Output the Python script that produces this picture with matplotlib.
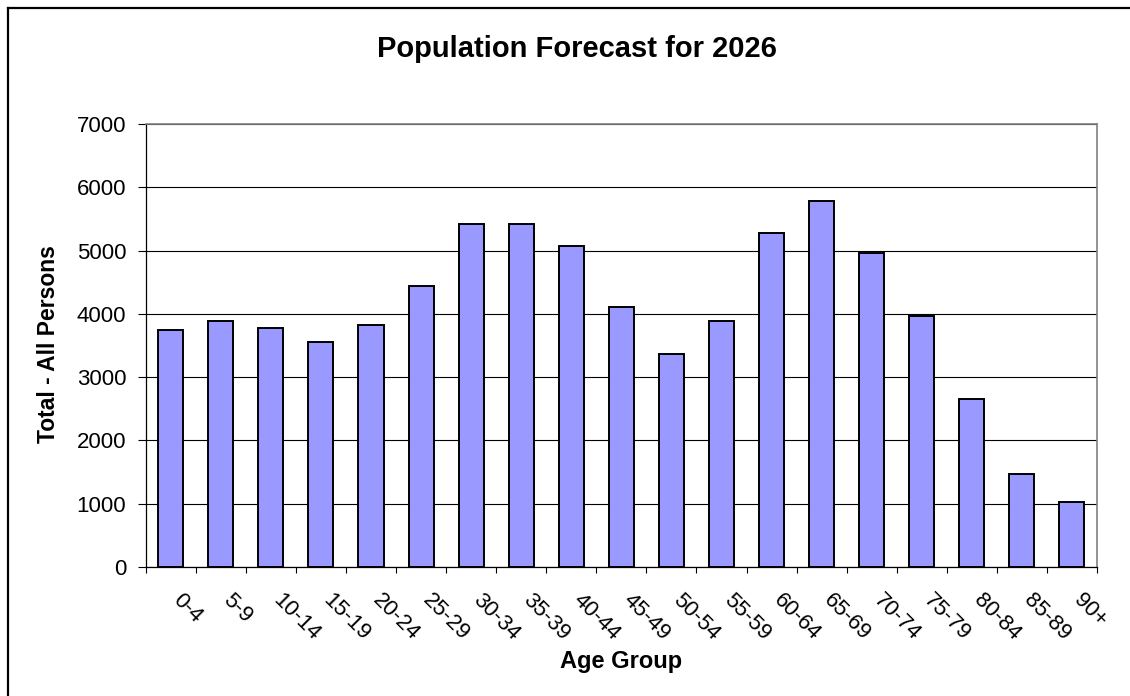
import matplotlib
matplotlib.use("Agg")
import matplotlib.pyplot as plt
import matplotlib.transforms as mtransforms
from matplotlib.lines import Line2D
import numpy as np

plt.rcParams['font.family'] = ['Liberation Sans', 'DejaVu Sans']

# Forecast population by five-year age group
age_groups = ["0-4", "5-9", "10-14", "15-19", "20-24", "25-29", "30-34",
              "35-39", "40-44", "45-49", "50-54", "55-59", "60-64", "65-69",
              "70-74", "75-79", "80-84", "85-89", "90+"]
persons = [3745, 3885, 3775, 3555, 3830, 4445, 5415, 5415, 5075, 4105,
           3360, 3885, 5275, 5780, 4965, 3970, 2660, 1465, 1025]
y_ticks = [0, 1000, 2000, 3000, 4000, 5000, 6000, 7000]

W, H = 1130, 696
fig = plt.figure(figsize=(W / 100, H / 100), dpi=100)
fig.patch.set_facecolor("white")

# outer chart frame (left and top edges fall inside the image)
fig.add_artist(Line2D([8 / W, 8 / W], [0, 1 - 8 / H], transform=fig.transFigure,
                      color="black", lw=1.6))
fig.add_artist(Line2D([8 / W, 1], [1 - 8 / H, 1 - 8 / H], transform=fig.transFigure,
                      color="black", lw=1.6))

left, right, top, bottom = 145.7, 1097, 124, 567
ax = fig.add_axes([left / W, 1 - bottom / H, (right - left) / W, (bottom - top) / H])

x = np.arange(len(age_groups))
ax.bar(x, persons, width=0.5, color="#9999FF", edgecolor="black", linewidth=1.4, zorder=3)

ax.set_xlim(-0.5, len(age_groups) - 0.5)
ax.set_ylim(0, 7000)
ax.set_yticks(y_ticks)
ax.set_yticklabels([str(v) for v in y_ticks], fontsize=16)
ax.yaxis.grid(True, color="black", linewidth=0.8, zorder=0)
ax.set_axisbelow(True)

# ticks at category boundaries, labels at category centres
ax.set_xticks(np.arange(-0.5, len(age_groups), 1.0))
ax.set_xticklabels([])
ax.set_xticks(x, minor=True)
ax.set_xticklabels(age_groups, minor=True, fontsize=16)
ax.tick_params(axis="x", which="major", direction="out", length=4, width=0.8)
ax.tick_params(axis="x", which="minor", length=0, pad=22)
ax.tick_params(axis="y", direction="out", length=6, width=0.8, pad=8)
shift = mtransforms.ScaledTranslation(5 / 100, 0, fig.dpi_scale_trans)
for lab in ax.get_xticklabels(minor=True):
    lab.set_rotation(-45)
    lab.set_rotation_mode("anchor")
    lab.set_ha("left")
    lab.set_va("center")
    lab.set_transform(lab.get_transform() + shift)

for side in ("top", "right"):
    ax.spines[side].set_color("#808080")
    ax.spines[side].set_linewidth(1.2)
for side in ("left", "bottom"):
    ax.spines[side].set_color("black")
    ax.spines[side].set_linewidth(0.9)

fig.text(576.7 / W, 1 - 56.7 / H, "Population Forecast for 2026", ha="center",
         va="baseline", fontsize=21, fontweight="bold")
fig.text(621.4 / W, 1 - 668.3 / H, "Age Group", ha="center", va="baseline",
         fontsize=17, fontweight="bold")
fig.text(55 / W, 1 - 344 / H, "Total - All Persons", ha="center", va="baseline",
         rotation=90, rotation_mode="anchor", fontsize=16.5, fontweight="bold")

fig.savefig("out.png", dpi=100)
